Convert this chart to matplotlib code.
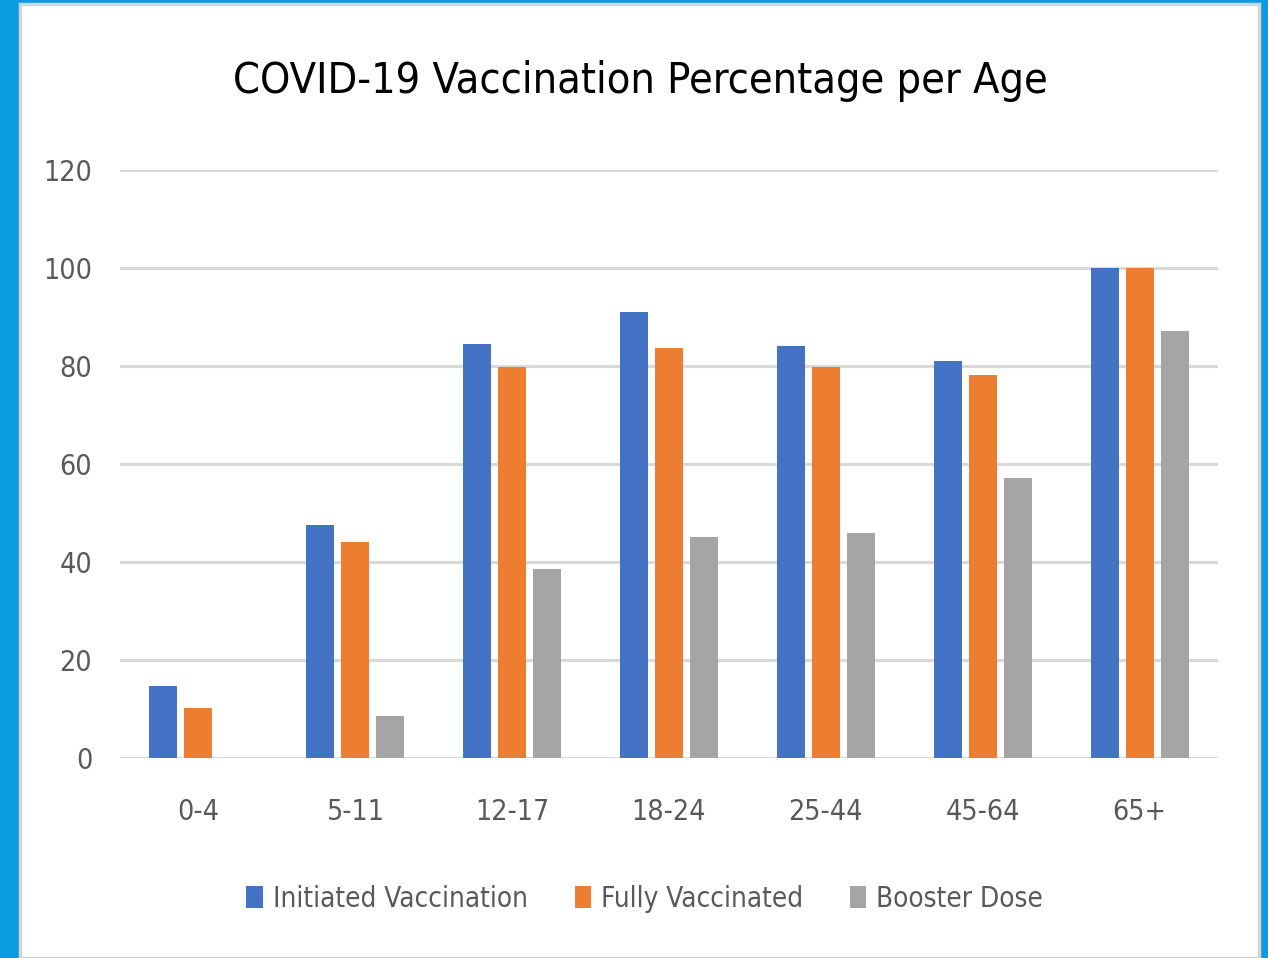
import matplotlib.pyplot as plt
import matplotlib.patches as patches
import numpy as np

ages = ["0-4", "5-11", "12-17", "18-24", "25-44", "45-64", "65+"]
initiated = [14.7, 47.6, 84.5, 91.0, 84.1, 81.0, 100]
fully = [10.2, 44.1, 79.8, 83.7, 79.8, 78.2, 100]
booster = [0, 8.6, 38.6, 45.1, 45.9, 57.1, 87.1]
series = ["Initiated Vaccination", "Fully Vaccinated", "Booster Dose"]
colors = ["#4472C4", "#ED7D31", "#A5A5A5"]

plt.rcParams["font.family"] = ["DejaVu Sans"]
plt.rcParams["font.stretch"] = "condensed"

fig = plt.figure(figsize=(12.68, 9.58), dpi=100, facecolor="#0B9BE0")
W, H = 1268, 958
# white panel with thin grey edge
panel = patches.Rectangle((20 / W, 0), 1239 / W, 954 / H, transform=fig.transFigure,
                          facecolor="white", edgecolor="#d4d4d4", linewidth=2.5, zorder=-5)
fig.add_artist(panel)

ax = fig.add_axes([120 / W, 1 - 758 / H, 1098 / W, 588 / H])
ax.set_zorder(2)
ax.set_facecolor("none")

x = np.arange(len(ages))
bw = 0.178
step = 0.223
for i, (vals, lab, c) in enumerate(zip([initiated, fully, booster], series, colors)):
    ax.bar(x + (i - 1) * step, vals, width=bw, color=c, label=lab, zorder=3)

ax.set_xlim(-0.5, len(ages) - 0.5)
ax.set_ylim(0, 120)
ax.set_yticks(range(0, 121, 20))
ax.set_xticks(x)
ax.set_xticklabels(ages)
ax.grid(axis="y", color="#d9d9d9", linewidth=2.2, zorder=0)
ax.tick_params(length=0, labelsize=20.5, labelcolor="#595959")
ax.tick_params(axis="x", pad=29)
ax.tick_params(axis="y", pad=20)
for s in ax.spines.values():
    s.set_visible(False)

fig.text(0.505, 1 - 81 / H, "COVID-19 Vaccination Percentage per Age", ha="center", va="center",
         fontsize=31, color="black")

ax.legend(loc="center", bbox_to_anchor=(0.478, -(899 - 758) / 588),
          ncol=3, frameon=False, fontsize=20, labelcolor="#595959", handlelength=0.58, handleheight=0.85,
          handletextpad=0.36, columnspacing=1.7)

fig.savefig("out.png", dpi=100, facecolor=fig.get_facecolor())
